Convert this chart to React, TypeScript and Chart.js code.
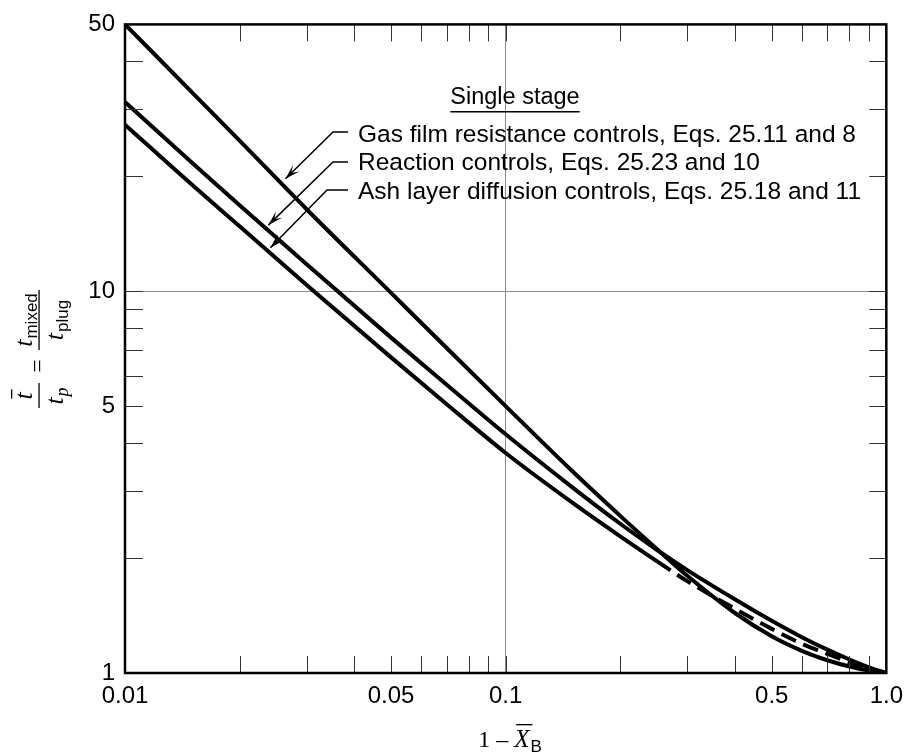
import React, { useEffect, useRef } from 'react';
import { Chart, registerables } from 'chart.js';

Chart.register(...registerables);

// ---- axis ticks ----
const xTickValues = [0.01, 0.02, 0.03, 0.04, 0.05, 0.06, 0.07, 0.08, 0.09, 0.1, 0.2, 0.3, 0.4, 0.5, 0.6, 0.7, 0.8, 0.9, 1.0];
const xTickLabels: Record<string, string> = { '0.01': '0.01', '0.05': '0.05', '0.1': '0.1', '0.5': '0.5', '1': '1.0' };
const yTickValues = [1, 2, 3, 4, 5, 6, 7, 8, 9, 10, 20, 30, 40, 50];
const yTickLabels: Record<string, string> = { '1': '1', '5': '5', '10': '10', '50': '50' };

// ---- series ----
const gasX = [0.01, 0.015, 0.02, 0.03, 0.05, 0.07, 0.1, 0.15, 0.2, 0.25, 0.3, 0.4, 0.5, 0.6, 0.7, 0.8, 0.9, 1.0];
const gasY = [50, 33.2, 24.8, 16.4, 9.9, 7.1, 5.0, 3.37, 2.58, 2.11, 1.797, 1.436, 1.248, 1.143, 1.08, 1.04, 1.015, 1.0];

const reactionX = [0.01, 0.015, 0.02, 0.03, 0.05, 0.07, 0.1, 0.15, 0.2, 0.25, 0.3, 0.4, 0.5, 0.6, 0.7, 0.8, 0.9, 1.0];
const reactionY = [31.3, 21.7, 16.8, 11.76, 7.56, 5.69, 4.22, 3.06, 2.46, 2.10, 1.86, 1.56, 1.37, 1.241, 1.151, 1.085, 1.035, 1.0];

const ashX = [0.01, 0.015, 0.02, 0.03, 0.05, 0.07, 0.1, 0.15, 0.2, 0.25];
const ashY = [27.3, 19.0, 14.8, 10.38, 6.71, 5.06, 3.77, 2.79, 2.28, 1.96];

const ashDashX = [0.25, 0.3, 0.4, 0.5, 0.6, 0.7, 0.8, 0.9, 1.0];
const ashDashY = [1.96, 1.74, 1.474, 1.305, 1.193, 1.122, 1.067, 1.027, 1.0];

// ---- annotations ----
const headingText = 'Single stage';
const noteTexts = [
  'Gas film resistance controls, Eqs. 25.11 and 8',
  'Reaction controls, Eqs. 25.23 and 10',
  'Ash layer diffusion controls, Eqs. 25.18 and 11',
];
const arrowTipX = [0.0264, 0.0238, 0.0241];
const arrowTipY = [19.7, 14.9, 13.0];

const pts = (xs: number[], ys: number[]) => xs.map((x, i) => ({ x, y: ys[i] }));
const near = (a: number, b: number) => Math.abs(a - b) < 1e-9 * Math.max(1, Math.abs(b));
const keyOf = (v: number) => String(parseFloat(v.toPrecision(6)));

const SANS = '"Liberation Sans", Arial, sans-serif';
const SERIF = '"Liberation Serif", "Times New Roman", serif';

const decorPlugin = {
  id: 'decor',
  afterDraw(chart: any) {
    const { ctx, chartArea } = chart;
    const xs = chart.scales.x;
    const ys = chart.scales.y;
    const { left, right, top, bottom } = chartArea;
    ctx.save();

    // inward tick marks
    ctx.strokeStyle = '#333';
    ctx.lineWidth = 1;
    ctx.beginPath();
    xTickValues.forEach((v) => {
      if (near(v, 0.01) || near(v, 1)) return;
      const px = Math.round(xs.getPixelForValue(v)) + 0.5;
      ctx.moveTo(px, bottom);
      ctx.lineTo(px, bottom - 17);
      ctx.moveTo(px, top);
      ctx.lineTo(px, top + 17);
    });
    yTickValues.forEach((v) => {
      if (near(v, 1) || near(v, 50)) return;
      const py = Math.round(ys.getPixelForValue(v)) + 0.5;
      ctx.moveTo(left, py);
      ctx.lineTo(left + 18, py);
      ctx.moveTo(right, py);
      ctx.lineTo(right - 17, py);
    });
    ctx.stroke();

    // frame
    ctx.strokeStyle = '#000';
    ctx.lineWidth = 2.5;
    ctx.strokeRect(left, top, right - left, bottom - top);

    // heading
    ctx.fillStyle = '#000';
    ctx.font = `23.5px ${SANS}`;
    ctx.textBaseline = 'middle';
    ctx.textAlign = 'center';
    const hx = 515;
    ctx.fillText(headingText, hx, 98);
    const hw = ctx.measureText(headingText).width;
    ctx.fillRect(hx - hw / 2, 111, hw, 1.5);

    // notes with leader arrows
    const textY = [135, 163, 192];
    const hookY = [132, 162, 190];
    const hookX0 = [333, 333, 327];
    ctx.textAlign = 'left';
    ctx.font = `24.5px ${SANS}`;
    noteTexts.forEach((t, i) => {
      ctx.fillText(t, 358, textY[i]);
      const tx = xs.getPixelForValue(arrowTipX[i]);
      const ty = ys.getPixelForValue(arrowTipY[i]);
      ctx.strokeStyle = '#000';
      ctx.lineWidth = 1.5;
      ctx.beginPath();
      ctx.moveTo(348, hookY[i]);
      ctx.lineTo(hookX0[i], hookY[i]);
      ctx.lineTo(tx, ty);
      ctx.stroke();
      // arrow head
      const ang = Math.atan2(ty - hookY[i], tx - hookX0[i]);
      const L = 15, W = 4.5;
      const bx = tx - L * Math.cos(ang);
      const by = ty - L * Math.sin(ang);
      ctx.beginPath();
      ctx.moveTo(tx, ty);
      ctx.lineTo(bx + W * Math.sin(ang), by - W * Math.cos(ang));
      ctx.lineTo(bx + 0.45 * L * Math.cos(ang), by + 0.45 * L * Math.sin(ang));
      ctx.lineTo(bx - W * Math.sin(ang), by + W * Math.cos(ang));
      ctx.closePath();
      ctx.fill();
    });

    // x-axis title: 1 – X̄_B
    ctx.textBaseline = 'alphabetic';
    ctx.textAlign = 'left';
    const p1 = '1 \u2013 ';
    ctx.font = `24px ${SERIF}`;
    const w1 = ctx.measureText(p1).width;
    ctx.font = `italic 25px ${SERIF}`;
    const wX = ctx.measureText('X').width;
    ctx.font = `17px ${SANS}`;
    const wB = ctx.measureText('B').width;
    const total = w1 + wX + wB + 1;
    let sx = 510 - total / 2;
    const by0 = 747;
    ctx.font = `24px ${SERIF}`;
    ctx.fillText(p1, sx, by0);
    sx += w1;
    ctx.font = `italic 25px ${SERIF}`;
    ctx.fillText('X', sx, by0);
    ctx.fillRect(sx + 2, by0 - 23, wX + 1, 1.3);
    sx += wX + 1;
    ctx.font = `17px ${SANS}`;
    ctx.fillText('B', sx, by0 + 5);

    // y-axis title (rotated): t̄/t_p = t_mixed/t_plug
    ctx.translate(39, 345);
    ctx.rotate(-Math.PI / 2);
    ctx.lineWidth = 1.3;
    const drawT = (cx: number, base: number, sub: string, subItalic: boolean, bar: boolean) => {
      ctx.font = `italic 26px ${SERIF}`;
      const wt = ctx.measureText('t').width;
      ctx.font = subItalic ? `italic 18px ${SERIF}` : `17px ${SANS}`;
      const ws = sub ? ctx.measureText(sub).width : 0;
      const tot = wt + ws + (sub ? 1 : 0);
      let x0 = cx - tot / 2;
      ctx.font = `italic 26px ${SERIF}`;
      ctx.fillText('t', x0, base);
      if (bar) ctx.fillRect(x0 + 1, base - 21, wt + 2, 1.3);
      x0 += wt + 1;
      if (sub) {
        ctx.font = subItalic ? `italic 18px ${SERIF}` : `17px ${SANS}`;
        ctx.fillText(sub, x0, base + 5);
      }
    };
    // fraction 1
    ctx.fillRect(-63, -0.6, 25, 1.3);
    drawT(-51, -7, '', false, true);
    drawT(-51, 24, 'p', true, false);
    // equals
    ctx.font = `24px ${SERIF}`;
    ctx.textAlign = 'center';
    ctx.textBaseline = 'middle';
    ctx.fillText('=', -21, 0);
    ctx.textAlign = 'left';
    ctx.textBaseline = 'alphabetic';
    // fraction 2
    ctx.fillRect(-5, -0.6, 60, 1.3);
    drawT(25, -7, 'mixed', false, false);
    drawT(25, 24, 'plug', false, false);

    ctx.restore();
  },
};

export default function App() {
  const ref = useRef<HTMLCanvasElement | null>(null);
  useEffect(() => {
    if (!ref.current) return;
    const line = (data: any, dash: number[] = []) => ({
      data,
      borderColor: '#000',
      backgroundColor: '#000',
      borderWidth: 4,
      borderDash: dash,
      pointRadius: 0,
      fill: false,
      cubicInterpolationMode: 'monotone' as const,
      borderCapStyle: 'butt' as const,
    });
    const chart = new Chart(ref.current, {
      type: 'line',
      data: {
        datasets: [
          { label: 'Gas film resistance controls', ...line(pts(gasX, gasY)) },
          { label: 'Reaction controls', ...line(pts(reactionX, reactionY)) },
          { label: 'Ash layer diffusion controls', ...line(pts(ashX, ashY)) },
          { label: 'Ash layer diffusion controls (dashed)', ...line(pts(ashDashX, ashDashY), [16, 8]) },
        ],
      },
      options: {
        responsive: false,
        animation: false,
        devicePixelRatio: 1,
        layout: { padding: { top: 22, right: 18, left: 0, bottom: 0 } },
        plugins: { legend: { display: false }, tooltip: { enabled: false }, title: { display: false } },
        scales: {
          x: {
            type: 'logarithmic',
            min: 0.01,
            max: 1,
            afterBuildTicks: (s: any) => {
              s.ticks = xTickValues.map((v) => ({ value: v }));
            },
            afterFit: (s: any) => {
              s.height = 80;
            },
            border: { display: false },
            grid: {
              drawTicks: false,
              lineWidth: 1,
              color: (c: any) => (c.tick && near(c.tick.value, 0.1) ? '#8a8a8a' : 'rgba(0,0,0,0)'),
            },
            ticks: {
              autoSkip: false,
              maxRotation: 0,
              padding: 9,
              color: '#000',
              font: { family: SANS, size: 24 },
              callback: (v: any) => xTickLabels[keyOf(Number(v))] ?? '',
            },
          },
          y: {
            type: 'logarithmic',
            min: 1,
            max: 50,
            afterBuildTicks: (s: any) => {
              s.ticks = yTickValues.map((v) => ({ value: v }));
            },
            afterFit: (s: any) => {
              s.width = 125;
            },
            border: { display: false },
            grid: {
              drawTicks: false,
              lineWidth: 1,
              color: (c: any) => (c.tick && near(c.tick.value, 10) ? '#8a8a8a' : 'rgba(0,0,0,0)'),
            },
            ticks: {
              autoSkip: false,
              padding: 10,
              color: '#000',
              font: { family: SANS, size: 24 },
              callback: (v: any) => yTickLabels[keyOf(Number(v))] ?? '',
            },
          },
        },
      },
      plugins: [decorPlugin],
    });
    return () => chart.destroy();
  }, []);
  return (
    <div style={{ position: 'fixed', left: 0, top: 0, width: 912, height: 753, background: '#fff' }}>
      <canvas ref={ref} width={912} height={753} />
    </div>
  );
}
